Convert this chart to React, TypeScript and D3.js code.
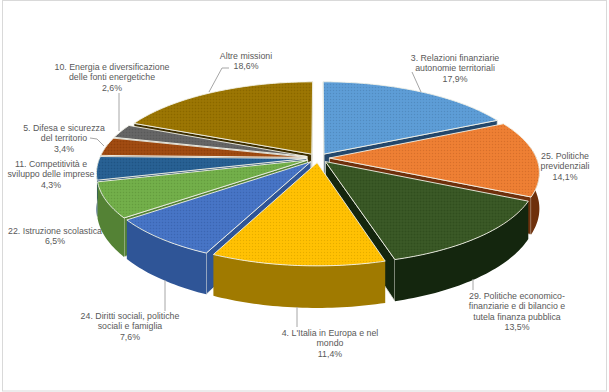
import React from "react";
import * as d3 from "d3";

const W = 609, H = 392;
const categories = [
  "3. Relazioni finanziarie|autonomie territoriali",
  "25. Politiche|previdenziali",
  "29. Politiche economico-|finanziarie e di bilancio e|tutela finanza pubblica",
  "4. L'Italia in Europa e nel|mondo",
  "24. Diritti sociali, politiche|sociali e famiglia",
  "22. Istruzione scolastica",
  "11. Competitività e|sviluppo delle imprese",
  "5. Difesa e sicurezza|del territorio",
  "10. Energia e diversificazione|delle fonti energetiche",
  "Altre missioni",
];
const values = [17.9, 14.1, 13.5, 11.4, 7.6, 6.5, 4.3, 3.4, 2.6, 18.6];
const topColors = ["#5b9bd5", "#ed7d31", "#375623", "#ffc000", "#4472c4", "#70ad47", "#255e91", "#9e480e", "#636363", "#997300"];
const wallColors = ["#23476b", "#6e300c", "#14260e", "#a07a00", "#2f5597", "#548235", "#1a4468", "#6e320a", "#444444", "#3d2e00"];

// layout of labels: [centre x, first baseline y]
const labelPos: [number, number][] = [
  [455, 61], [565, 159], [517, 299], [330, 336], [130, 319],
  [55, 234], [51, 167], [64, 131], [112, 70], [246, 59],
];
const leaders: [number, number][][] = [
  [[412, 72], [421, 92]],
  [],
  [[473, 279], [473, 290]],
  [[297, 307], [297, 327]],
  [[165, 280], [165, 311]],
  [],
  [],
  [[90, 138], [97, 139], [104, 146]],
  [[119, 93], [119, 131]],
  [[229, 68], [222, 68], [209, 92]],
];

const cx = 318, cy = 158, Rx = 207, Ry = 85, persp = 0.16, depth = 35, explode = 0.055;

function project(u: number, v: number, z: number): [number, number] {
  const s = 1 / (1 - persp * v);
  return [cx + Rx * u * s, cy + Ry * v * s + z * depth * s];
}

const arcs = d3.pie<number>().sort(null).value((d) => d)(values);
const line = d3.line();

type Face = { d: string; fill: string; stroke?: string };

const slices = arcs.map((a, i) => {
  const mid = (a.startAngle + a.endAngle) / 2;
  const ox = Math.sin(mid) * explode;
  const oy = -Math.cos(mid) * explode;
  const pt = (ang: number, r: number, z: number) =>
    project(ox + r * Math.sin(ang), oy - r * Math.cos(ang), z);
  const n = Math.max(6, Math.round((a.endAngle - a.startAngle) / 0.02));
  const angs = d3.range(n + 1).map((k) => a.startAngle + ((a.endAngle - a.startAngle) * k) / n);
  const faces: Face[] = [];
  const wall = wallColors[i];
  // radial walls (only those which face the viewer)
  [a.startAngle, a.endAngle].forEach((ang) => {
    const q: [number, number][] = [pt(ang, 0, 0), pt(ang, 1, 0), pt(ang, 1, 1), pt(ang, 0, 1)];
    const sign = ang === a.startAngle ? 1 : -1;
    if (d3.polygonArea(q) * sign > 0) faces.push({ d: line(q) + "Z", fill: wall, stroke: "#e8e8e0" });
  });
  // outer wall: only the segments which face the viewer
  let run: number[] = [];
  const flush = () => {
    if (run.length > 1) {
      const q = [...run.map((t) => pt(t, 1, 0)), ...run.slice().reverse().map((t) => pt(t, 1, 1))];
      faces.push({ d: line(q) + "Z", fill: wall, stroke: "none" });
    }
    run = [];
  };
  angs.forEach((t) => {
    if (Math.cos(t) < 0.16) run.push(t);
    else flush();
  });
  flush();
  const top: [number, number][] = [pt(0, 0, 0), ...angs.map((t) => pt(t, 1, 0))];
  return { i, faces, top: line(top) + "Z", order: oy };
});
const sorted = slices.slice().sort((p, q) => p.order - q.order);

export default function App() {
  return (
    <svg width={W} height={H} style={{ position: "fixed", left: 0, top: 0, background: "#fff" }}>
      <defs>
        {topColors.map((c, i) => (
          <pattern key={i} id={`dots${i}`} width={3} height={3} patternUnits="userSpaceOnUse">
            <rect width={3} height={3} fill={c} />
            <rect width={1} height={1} fill="#000" opacity={0.1} />
            <rect x={1.5} y={1.5} width={1} height={1} fill="#fff" opacity={0.08} />
          </pattern>
        ))}
      </defs>
      <rect x={2.5} y={0.5} width={604} height={390.5} fill="#fff" stroke="#d9d9d9" strokeWidth={1} />
      {sorted.map((s) => (
        <g key={s.i}>
          {s.faces.map((f, k) => (
            <path key={k} d={f.d} fill={f.fill} stroke={f.stroke} strokeWidth={0.8} strokeLinejoin="round" />
          ))}
          <path d={s.top} fill={`url(#dots${s.i})`} stroke="#f2f2e8" strokeWidth={0.9} strokeLinejoin="round" />
        </g>
      ))}
      {leaders.map((l, i) =>
        l.length ? (
          <path key={i} d={line(l) as string} fill="none" stroke="#a6a6a6" strokeWidth={1} />
        ) : null
      )}
      {categories.map((c, i) => {
        const lines = [...c.split("|"), values[i].toFixed(1).replace(".", ",") + "%"];
        return (
          <text key={i} textAnchor="middle" fontFamily="'Liberation Sans', sans-serif" fontSize={8.8} fill="#595959">
            {lines.map((t, k) => (
              <tspan key={k} x={labelPos[i][0]} y={labelPos[i][1] + k * 10.35}>{t}</tspan>
            ))}
          </text>
        );
      })}
    </svg>
  );
}
